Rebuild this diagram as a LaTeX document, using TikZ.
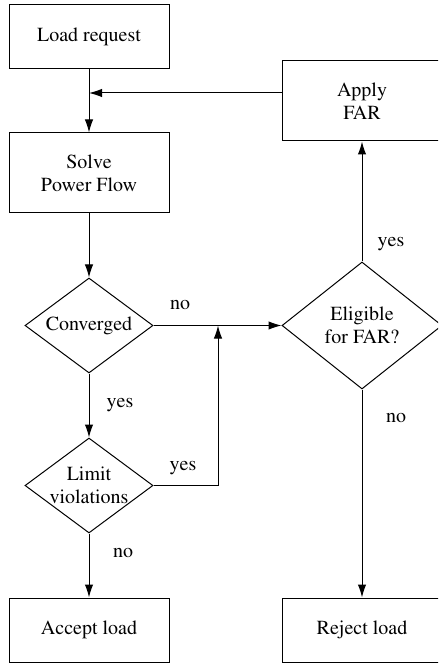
\documentclass[tikz,border=0pt]{standalone}
\usepackage[T1]{fontenc}
\renewcommand{\rmdefault}{ptm}
\usetikzlibrary{shapes.geometric,arrows.meta}
\begin{document}
\begin{tikzpicture}[x=0.5pt,y=-0.5pt,
  font=\rmfamily\fontsize{10}{11.5}\selectfont,
  line width=0.5pt,
  stepbox/.style={draw,rectangle,minimum width=80pt,inner sep=2pt,align=center},
  dia/.style={draw,diamond,inner sep=0pt},
  arr/.style={-{Latex[length=6.5pt,width=4.2pt]}},
  lbl/.style={anchor=base,inner sep=0pt}]
\clip (0,0) rectangle (438,667);
\useasboundingbox (0,0) rectangle (438,667);

% left column
\node[stepbox,minimum height=32pt] (load) at (89,37) {Load request};
\node[stepbox,minimum height=40pt] (solve) at (89,173) {Solve\\Power Flow};
\node[dia,minimum width=64pt,minimum height=47.5pt,
      label={[align=center]center:Converged}] (conv) at (89,325.5) {};
\node[dia,minimum width=64pt,minimum height=47.5pt,
      label={[align=center]center:Limit\\violations}] (lim) at (89,485.5) {};
\node[stepbox,minimum height=32pt] (accept) at (89,630) {Accept load};

% right column
\node[stepbox,minimum height=40pt] (apply) at (362,101) {Apply\\FAR};
\node[dia,minimum width=80pt,minimum height=63.5pt,
      label={[align=center]center:Eligible\\for FAR?}] (elig) at (362,325.5) {};
\node[stepbox,minimum height=32pt] (reject) at (362,630) {Reject load};

% junction points
\coordinate (j1) at (89,93);
\coordinate (j2) at (218,325.5);

% connectors
\draw[arr] (load) -- (solve);
\draw[arr] (apply.west |- j1) -- (j1);
\draw[arr] (solve) -- (conv);
\draw[arr] (conv) -- (elig);
\draw[arr] (conv) -- (lim);
\draw[arr] (lim) -- (accept);
\draw[arr] (lim.east) -| (j2);
\draw[arr] (elig) -- (apply);
\draw[arr] (elig) -- (reject);

% branch labels
\node[lbl] (l1) at (180,310) {no};
\node[lbl] (l2) at (120,407) {yes};
\node[lbl] (l3) at (183,470) {yes};
\node[lbl] (l4) at (123,557) {no};
\node[lbl] (l5) at (391,247) {yes};
\node[lbl] (l6) at (396,422) {no};
\end{tikzpicture}
\end{document}
